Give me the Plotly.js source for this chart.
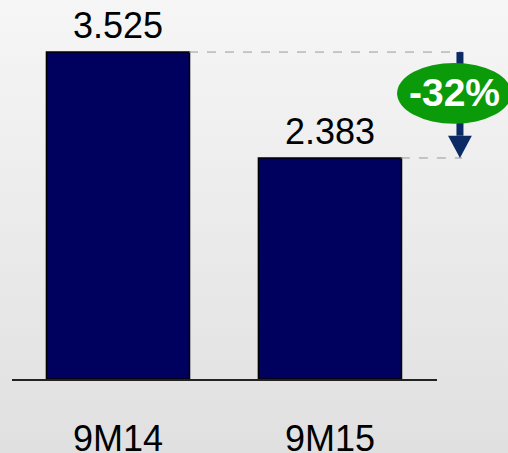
<!DOCTYPE html>
<html>
<head>
<meta charset="utf-8">
<script src="https://cdn.plot.ly/plotly-3.0.1.min.js"></script>
<style>
html,body{margin:0;padding:0;}
body{width:508px;height:453px;background:linear-gradient(to bottom,#f6f6f6 0%,#e0e0e0 100%);}
#chart{width:508px;height:453px;}
</style>
</head>
<body>
<div id="chart"></div>
<script>
const categories = ['9M14', '9M15'];
const values = [3.525, 2.383];
const valueLabels = ['3.525', '2.383'];
const changeLabel = '-32%';

const FONT = 'Liberation Sans, Arial, sans-serif';
const barColor = '#00005e';
const arrowColor = '#0c2a64';
const badgeColor = '#0a9a0a';

// paper-x positions of bar right edges and of the change arrow
const barRightPaper = [0.4165, 0.915];
const arrowX = 1.054;

const shapes = [];
values.forEach((v, i) => {
  shapes.push({type: 'line', xref: 'paper', yref: 'y', x0: barRightPaper[i], x1: arrowX + 0.005, y0: v, y1: v,
    line: {color: '#9a9a9a', width: 1, dash: 'dash'}, layer: 'above'});
});
// arrow shaft and head (from first value down to second)
const headLen = 0.24; // y units
shapes.push({type: 'line', xref: 'paper', yref: 'y', x0: arrowX, x1: arrowX, y0: values[0], y1: values[1] + headLen,
  line: {color: arrowColor, width: 7}, layer: 'above'});
const hw = 0.028;
shapes.push({type: 'path', xref: 'paper', yref: 'y',
  path: `M ${arrowX - hw} ${values[1] + headLen} L ${arrowX + hw} ${values[1] + headLen} L ${arrowX} ${values[1]} Z`,
  fillcolor: arrowColor, line: {width: 0}, layer: 'above'});
// green badge
shapes.push({type: 'circle', xref: 'paper', yref: 'paper', x0: 0.906, x1: 1.175, y0: 0.688, y1: 0.852,
  fillcolor: badgeColor, line: {width: 0}, layer: 'above'});

const annotations = values.map((v, i) => ({
  x: categories[i], y: v, xref: 'x', yref: 'y', text: valueLabels[i], showarrow: false,
  yanchor: 'bottom', yshift: 4, font: {family: FONT, size: 36, color: '#000'}
}));
annotations.push({x: 1.040, y: 0.771, xref: 'paper', yref: 'paper', text: '<b>' + changeLabel + '</b>',
  showarrow: false, xanchor: 'center', yanchor: 'middle', font: {family: FONT, size: 39, color: '#fff'}});

const data = [{
  type: 'bar', x: categories, y: values, width: 0.675,
  marker: {color: barColor, line: {color: '#000', width: 1.5}},
  hoverinfo: 'none'
}];

const layout = {
  width: 508, height: 453,
  margin: {l: 12, r: 71, t: 8, b: 74, pad: 0},
  paper_bgcolor: 'rgba(0,0,0,0)', plot_bgcolor: 'rgba(0,0,0,0)',
  showlegend: false,
  xaxis: {type: 'category', range: [-0.5, 1.505], showline: true, linecolor: '#222', linewidth: 1.5,
    showgrid: false, zeroline: false, ticks: '', ticklabelstandoff: 27,
    tickfont: {family: FONT, size: 36, color: '#000'}, fixedrange: true},
  yaxis: {range: [0, 4], visible: false, showgrid: false, zeroline: false, fixedrange: true},
  shapes: shapes,
  annotations: annotations
};

Plotly.newPlot('chart', data, layout, {staticPlot: true, displayModeBar: false});
</script>
</body>
</html>
